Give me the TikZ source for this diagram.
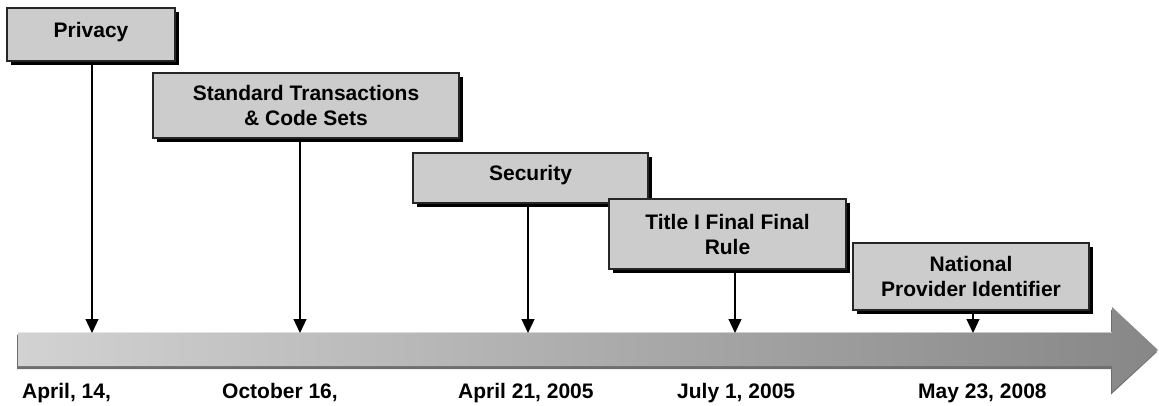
\documentclass[tikz,border=0pt]{standalone}
\usepackage{fontspec}
\setmainfont{Liberation Sans}
\usetikzlibrary{arrows.meta,shadows}
\definecolor{boxgray}{HTML}{CCCCCC}
\definecolor{bandleft}{HTML}{D2D2D2}
\definecolor{bandright}{HTML}{878787}
\definecolor{bandshadow}{HTML}{6E6E6E}
\begin{document}
\begin{tikzpicture}[x=1pt,y=-1pt,
  evbox/.style={draw=black!85, line width=1.4pt, fill=boxgray, inner sep=0pt,
    align=center, font=\bfseries\fontsize{21}{25}\selectfont,
    drop shadow={shadow xshift=3.5pt, shadow yshift=-3.5pt, fill=black, opacity=1}},
  oneline/.style={text height=15.5pt, text depth=10.5pt},
  datelbl/.style={anchor=base west, inner sep=0pt, font=\bfseries\fontsize{21}{25}\selectfont},
  pointer/.style={-{Triangle[width=13pt,length=14pt]}, line width=1.2pt, black}
]
\useasboundingbox (0,0) rectangle (1159,405);

% timeline arrow
\fill[bandshadow] (17,334.5) -- (1111,334.5) -- (1111,309.5) -- (1157,352) -- (1111,394.5) -- (1111,369) -- (17,369) -- cycle;
\shade[left color=bandleft, right color=bandright]
  (18,332) -- (1112,332) -- (1112,307) -- (1158,350) -- (1112,392) -- (1112,366) -- (18,366) -- cycle;
\draw[white, opacity=0.5, line width=1pt] (18,332.5) -- (1112,332.5);

\coordinate (t1) at (92,333);
\coordinate (t2) at (300,333);
\coordinate (t3) at (528,333);
\coordinate (t4) at (735,333);
\coordinate (t5) at (973,333);

% event boxes
\node[evbox, oneline, minimum width=168pt, minimum height=53pt] (priv) at (91,34.5) {Privacy};
\node[evbox, minimum width=306pt, minimum height=65pt] (std) at (306,105.5) {Standard Transactions\\\& Code Sets};
\node[evbox, oneline, minimum width=235pt, minimum height=50pt] (sec) at (530.5,178) {Security};
\node[evbox, minimum width=237pt, minimum height=70pt] (title) at (727.5,234) {Title I Final Final\\Rule};
\node[evbox, minimum width=236pt, minimum height=67pt] (npi) at (971,276.5) {National\\Provider Identifier};

% pointers
\draw[pointer] (priv.south -| t1) -- (t1);
\draw[pointer] (std.south -| t2) -- (t2);
\draw[pointer] (sec.south -| t3) -- (t3);
\draw[pointer] (title.south -| t4) -- (t4);
\draw[pointer] (npi.south -| t5) -- (t5);

% dates
\node[datelbl] (d1) at (22,398) {April, 14,};
\node[datelbl] (d2) at (222,398) {October 16,};
\node[datelbl] (d3) at (458,398) {April 21, 2005};
\node[datelbl] (d4) at (677,398) {July 1, 2005};
\node[datelbl] (d5) at (918,398) {May 23, 2008};
\end{tikzpicture}
\end{document}
